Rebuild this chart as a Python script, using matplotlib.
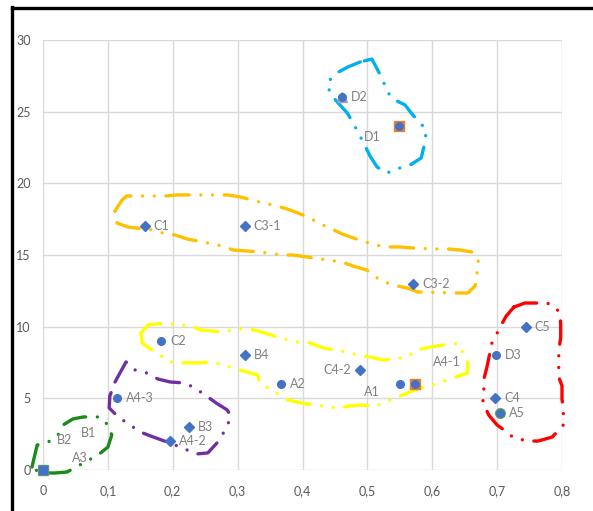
import matplotlib
matplotlib.use("Agg")
import matplotlib.pyplot as plt
from matplotlib.lines import Line2D

# ---------------- data ----------------
point_names = ["A3", "B2", "B1", "A4-3", "C2", "B4", "A2", "B3", "A4-2", "C4-2",
               "A1", "A4-1", "D3", "C5", "C4", "A5", "C1", "C3-1", "C3-2", "D2", "D1"]
point_x = [0.0, 0.0, 0.0, 0.114, 0.182, 0.311, 0.367, 0.225, 0.196, 0.489,
           0.550, 0.573, 0.698, 0.744, 0.697, 0.704, 0.157, 0.311, 0.571, 0.461, 0.548]
point_y = [0, 0, 0, 5, 9, 8, 6, 3, 2, 7,
           6, 6, 8, 10, 5, 4, 17, 17, 13, 26, 24]
point_marker = ["s", "s", "s", "o", "o", "D", "o", "D", "D", "D",
                "o", "o", "o", "D", "D", "o", "D", "D", "D", "o", "o"]
# label offsets in pixels (dx, dy up); others sit right of their point
label_offsets = {"B2": (21, 30), "B1": (46, 37), "A3": (37, 12),
                 "A1": (-28, -8), "A4-1": (32, 22), "C4-2": (-23, 0), "D1": (-26, -11)}

# background points peeking out under the blue markers
under_x = [0.0, 0.573, 0.548, 0.704, 0.461]
under_y = [0, 6, 24, 4, 26]
under_color = ["#70AD47", "#ED7D31", "#ED7D31", "#70AD47", "#A5A5A5"]
under_marker = ["s", "s", "s", "o", "^"]

x_ticks = [0, 0.1, 0.2, 0.3, 0.4, 0.5, 0.6, 0.7, 0.8]
x_tick_labels = ["0", "0,1", "0,2", "0,3", "0,4", "0,5", "0,6", "0,7", "0,8"]
y_ticks = [0, 5, 10, 15, 20, 25, 30]

# hand-drawn enclosures (data coordinates)
green_x = [-0.017, -0.009, 0.008, 0.023, 0.031, 0.046, 0.062, 0.088, 0.100, 0.106,
           0.100, 0.085, 0.068, 0.037, 0.018, -0.005]
green_y = [0.21, 1.74, 1.95, 2.44, 3.14, 3.56, 3.70, 3.70, 3.14, 2.44,
           1.60, 1.05, 0.63, -0.14, -0.21, -0.20]

purple_x = [0.111, 0.128, 0.142, 0.160, 0.177, 0.196, 0.219, 0.234, 0.250, 0.267,
            0.284, 0.290, 0.279, 0.268, 0.254, 0.237, 0.196, 0.183, 0.166, 0.150,
            0.116, 0.102, 0.103]
purple_y = [6.14, 7.54, 6.98, 6.77, 6.35, 6.14, 6.07, 5.72, 5.23, 4.67,
            4.19, 3.70, 2.65, 1.88, 1.19, 1.12, 1.88, 2.09, 2.37, 2.65,
            3.70, 4.33, 5.16]

yellow_x = [0.151, 0.162, 0.188, 0.208, 0.230, 0.242, 0.277, 0.299, 0.319, 0.337,
            0.365, 0.392, 0.412, 0.432, 0.469, 0.486, 0.504, 0.524, 0.561, 0.576,
            0.597, 0.617, 0.632, 0.643, 0.647, 0.655, 0.654, 0.632, 0.600, 0.581,
            0.546, 0.509, 0.493, 0.473, 0.455, 0.416, 0.399, 0.378, 0.370, 0.334,
            0.331, 0.314, 0.293, 0.262, 0.239, 0.219, 0.196, 0.168, 0.153]
yellow_y = [9.56, 10.12, 10.26, 10.12, 10.05, 9.77, 9.63, 9.84, 9.84, 9.63,
            9.21, 8.93, 8.86, 8.51, 8.23, 8.02, 7.88, 7.67, 7.88, 8.37,
            8.58, 8.72, 8.86, 8.72, 8.16, 7.47, 6.77, 6.42, 5.93, 5.72,
            5.09, 4.40, 4.54, 4.47, 4.33, 4.54, 4.67, 4.88, 5.09, 6.07,
            6.63, 6.84, 7.12, 7.54, 7.47, 7.47, 7.54, 8.37, 8.86]

orange_x = [0.111, 0.122, 0.129, 0.154, 0.173, 0.191, 0.207, 0.247, 0.265, 0.285,
            0.304, 0.339, 0.355, 0.376, 0.393, 0.412, 0.424, 0.442, 0.461, 0.478,
            0.512, 0.530, 0.550, 0.569, 0.604, 0.624, 0.643, 0.661, 0.671, 0.669,
            0.666, 0.655, 0.638, 0.578, 0.561, 0.539, 0.519, 0.499, 0.478, 0.461,
            0.439, 0.407, 0.385, 0.368, 0.347, 0.314, 0.293, 0.276, 0.254, 0.222,
            0.203, 0.185, 0.170, 0.131, 0.114]
orange_y = [18.07, 18.84, 19.12, 19.12, 19.12, 19.12, 19.19, 19.19, 19.19, 19.19,
            19.05, 18.63, 18.49, 18.21, 17.93, 17.58, 17.23, 16.88, 16.47, 16.19,
            15.70, 15.56, 15.56, 15.49, 15.42, 15.42, 15.35, 15.21, 14.65, 13.74,
            12.84, 12.35, 12.35, 12.42, 12.70, 12.91, 13.26, 13.95, 14.23, 14.51,
            14.65, 14.86, 15.00, 15.00, 15.14, 15.28, 15.35, 15.63, 15.84, 16.12,
            16.40, 16.53, 16.74, 16.95, 17.23]

blue_x = [0.489, 0.470, 0.453, 0.439, 0.442, 0.455, 0.469, 0.478, 0.496, 0.504,
          0.515, 0.530, 0.550, 0.566, 0.583, 0.587, 0.590, 0.590, 0.570, 0.558,
          0.539, 0.529, 0.524, 0.507]
blue_y = [28.47, 28.12, 27.70, 27.07, 26.30, 25.60, 24.91, 24.21, 22.67, 21.91,
          21.14, 20.72, 21.07, 21.28, 21.77, 22.53, 23.37, 23.79, 24.77, 25.47,
          25.89, 26.51, 27.21, 28.67]

red_x = [0.726, 0.743, 0.777, 0.789, 0.797, 0.798, 0.798, 0.795, 0.795, 0.800,
         0.800, 0.802, 0.802, 0.785, 0.763, 0.746, 0.724, 0.715, 0.700, 0.687,
         0.678, 0.680, 0.680, 0.684, 0.692, 0.709, 0.714]
red_y = [11.37, 11.65, 11.65, 11.37, 10.95, 10.12, 9.21, 8.37, 6.49, 5.86,
         4.95, 4.19, 3.14, 2.30, 2.02, 2.02, 2.30, 2.65, 3.14, 3.84,
         4.74, 5.93, 6.42, 7.12, 8.86, 10.33, 10.74]

shapes = [(green_x, green_y, "#1A8A1A"), (purple_x, purple_y, "#7030A0"),
          (yellow_x, yellow_y, "#FFFF00"), (orange_x, orange_y, "#FFC000"),
          (blue_x, blue_y, "#00B0F0"), (red_x, red_y, "#FF0000")]

# ---------------- figure ----------------
DPI = 100
fig = plt.figure(figsize=(5.93, 5.11), dpi=DPI)
ax = fig.add_axes([43 / 593, 41 / 511, 519 / 593, 430 / 511])
ax.set_xlim(0, 0.8)
ax.set_ylim(0, 30)
ax.set_xticks(x_ticks)
ax.set_xticklabels(x_tick_labels)
ax.set_yticks(y_ticks)
for s in ax.spines.values():
    s.set_visible(False)
ax.grid(True, color="#D9D9D9", lw=1.0, zorder=0)
ax.set_axisbelow(True)
ax.tick_params(length=0, labelsize=9, labelcolor="#595959")
ax.tick_params(axis="x", pad=11)
ax.tick_params(axis="y", pad=9)
for lab in ax.get_xticklabels() + ax.get_yticklabels():
    lab.set_family("Lato")

# enclosures
for sx, sy, col in shapes:
    ax.plot(list(sx) + [sx[0]], list(sy) + [sy[0]], color=col, lw=2.4,
            linestyle=(0, (7, 3.5, 0.01, 3.5, 0.01, 3.5)),
            dash_capstyle="round", solid_capstyle="round",
            zorder=2, clip_on=False)

# background markers
for ux, uy, uc, um in zip(under_x, under_y, under_color, under_marker):
    ax.plot([ux], [uy], marker=um, color=uc, markersize=7, ls="none",
            zorder=3, clip_on=False)

# points
blue = "#4472C4"
for name, px, py, mk in zip(point_names, point_x, point_y, point_marker):
    ms = {"D": 5, "o": 5.5, "s": 5.5}[mk]
    ax.plot([px], [py], marker=mk, color=blue, markersize=ms, ls="none",
            zorder=4, clip_on=False)
    if name in label_offsets:
        dx, dy = label_offsets[name]
        ax.annotate(name, (px, py), xytext=(dx * 72 / DPI, dy * 72 / DPI),
                    textcoords="offset points", ha="center", va="center",
                    fontsize=9, color="#808080", family="Lato", zorder=5)
    else:
        ax.annotate(name, (px, py), xytext=(9 * 72 / DPI, 0),
                    textcoords="offset points", ha="left", va="center",
                    fontsize=9, color="#808080", family="Lato", zorder=5)

# black frame lines (left and top)
fig.add_artist(Line2D([12 / 593, 12 / 593], [0, 1 - 7 / 511], color="black",
                      lw=2.4, transform=fig.transFigure, solid_capstyle="projecting"))
fig.add_artist(Line2D([12 / 593, 1], [1 - 8 / 511, 1 - 8 / 511], color="black",
                      lw=2.4, transform=fig.transFigure, solid_capstyle="projecting"))

fig.savefig("out.png", dpi=DPI)
